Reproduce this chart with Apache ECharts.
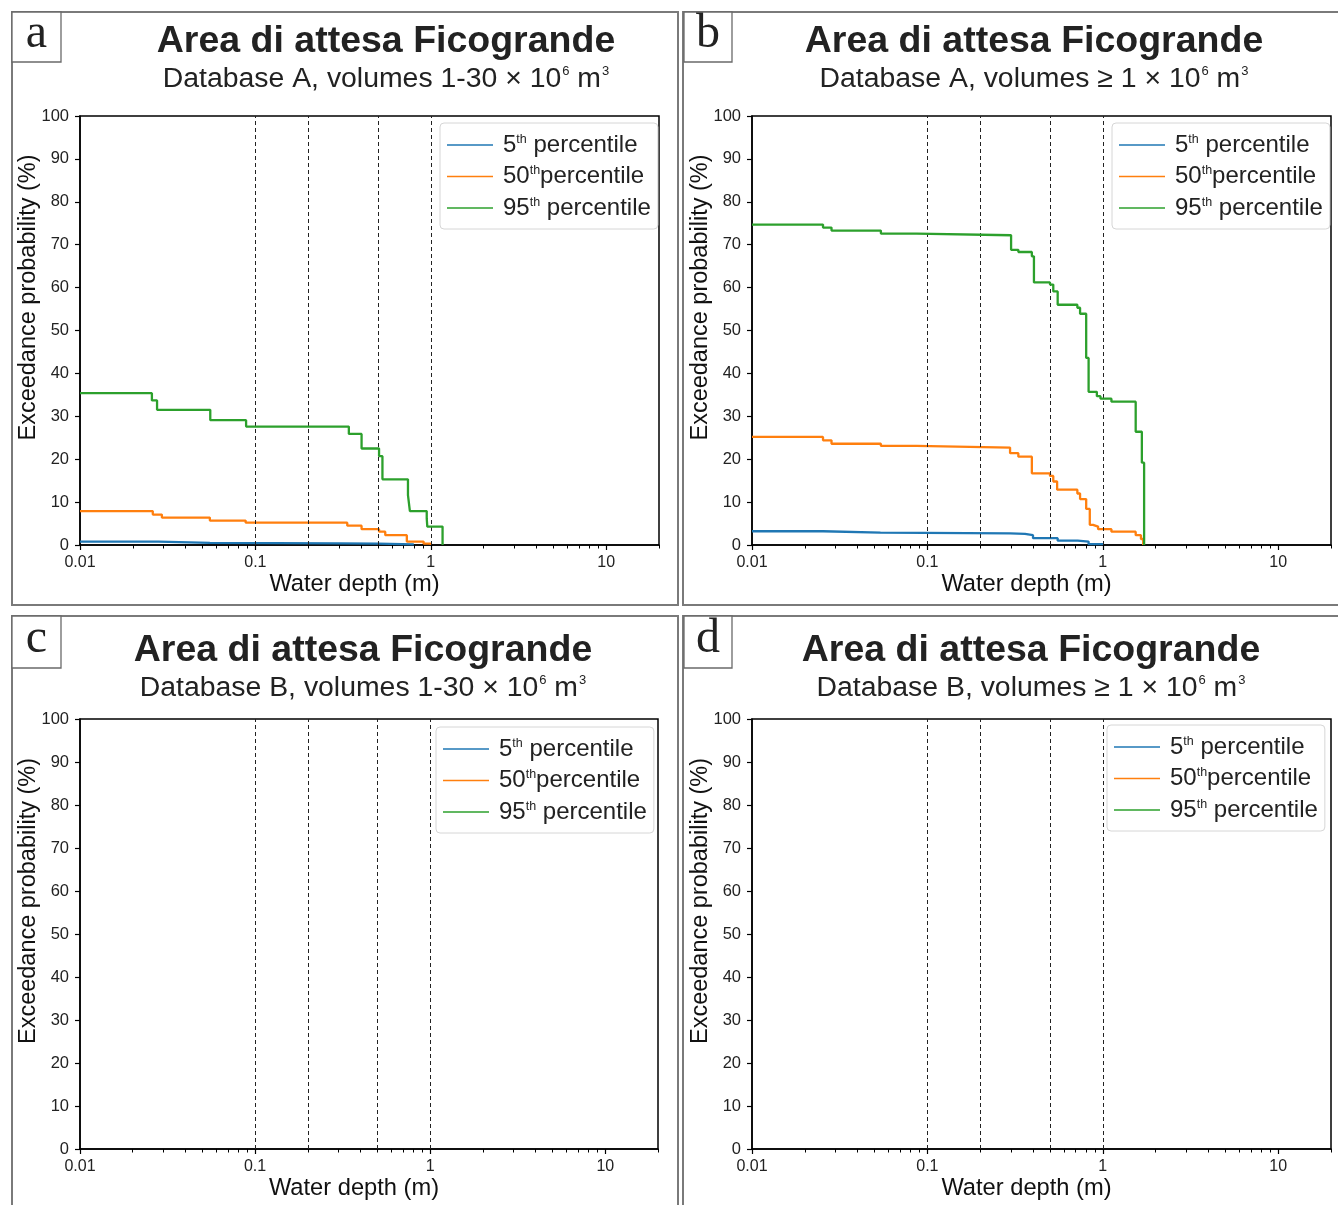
<!DOCTYPE html>
<html>
<head>
<meta charset="utf-8">
<script src="https://cdn.jsdelivr.net/npm/echarts@6/dist/echarts.min.js"></script>
<style>html,body{margin:0;padding:0;background:#fff}#c{width:1338px;height:1205px}</style>
</head>
<body>
<div id="c"></div>
<script>
// ---- data ----
const seriesNames = ['p5', 'p50', 'p95'];
const legendLabels = { p5: '5', p50: '50', p95: '95' };
const xMajorTicks = [0.01, 0.1, 1, 10];
const xMinorTicks = [0.02,0.03,0.04,0.05,0.06,0.07,0.08,0.09,0.2,0.3,0.4,0.5,0.6,0.7,0.8,0.9,2,3,4,5,6,7,8,9,20];
const guideDepths = [0.1, 0.2, 0.5, 1];
const panelLetters = ['a', 'b', 'c', 'd'];
const panelTitle = 'Area di attesa Ficogrande';
const panelSubtitles = [
  'Database A, volumes 1-30 × 10{s|6} m{s|3}',
  'Database A, volumes ≥ 1 × 10{s|6} m{s|3}',
  'Database B, volumes 1-30 × 10{s|6} m{s|3}',
  'Database B, volumes ≥ 1 × 10{s|6} m{s|3}'
];

// Panel a (Database A, 1-30)
const p5a  = [[0.01,0.8],[0.028,0.5],[0.055,0.4],[0.3,0.3],[0.5,0.15],[0.8,0]];
const p50a = [[0.01,7.9],[0.026,7.1],[0.0293,6.4],[0.055,5.7],[0.088,5.2],[0.334,4.5],[0.403,3.7],[0.507,3.1],[0.55,2.3],[0.73,0.8],[0.91,0.3],[1.0,0]];
const p95a = [[0.01,35.4],[0.0257,33.7],[0.0275,31.5],[0.0553,29.1],[0.0885,27.6],[0.341,25.9],[0.403,22.5],[0.507,20.7],[0.53,15.3],[0.741,11.6],[0.76,7.9],[0.948,6.2],[0.955,4.3],[1.167,0]];
// Panel b (Database A, >=1)
const p5b  = [[0.01,3.2],[0.0254,2.9],[0.054,2.7],[0.296,2.6],[0.36,2.3],[0.40,1.6],[0.553,1.0],[0.72,0.8],[0.83,0.2],[1.0,0]];
const p50b = [[0.01,25.2],[0.0254,24.4],[0.0284,23.6],[0.0543,23.1],[0.0867,22.7],[0.296,21.4],[0.330,20.6],[0.394,16.7],[0.5,16.1],[0.522,14.8],[0.549,12.9],[0.716,12.0],[0.742,10.7],[0.804,8.4],[0.843,4.7],[0.88,4.3],[0.94,3.7],[1.12,3.1],[1.54,2.3],[1.65,1.4],[1.7,0]];
const p95b = [[0.01,74.7],[0.0254,74.0],[0.0284,73.3],[0.0543,72.6],[0.0867,72.2],[0.300,68.8],[0.330,68.3],[0.394,67.3],[0.405,61.2],[0.500,60.7],[0.522,59.1],[0.553,56.0],[0.716,55.3],[0.742,53.9],[0.804,43.6],[0.83,35.7],[0.925,34.7],[0.97,34.1],[1.12,33.4],[1.54,26.4],[1.67,19.2],[1.72,0]];
// Panels c, d (Database B) – no curves drawn
const p5c = [], p50c = [], p95c = [];
const p5d = [], p50d = [], p95d = [];

const panelData = [[p5a,p50a,p95a],[p5b,p50b,p95b],[p5c,p50c,p95c],[p5d,p50d,p95d]];

// ---- layout ----
const colors = ['#1f77b4', '#ff7f0e', '#2ca02c'];
const FONT = '"Liberation Sans", Arial, Helvetica, sans-serif';
const grids = [
  {left: 80,  top: 116, width: 579, height: 429},
  {left: 752, top: 116, width: 579, height: 429},
  {left: 80,  top: 719, width: 578, height: 430},
  {left: 752, top: 719, width: 579, height: 430}
];
const frames = [[12,12,666,593],[683,12,660,593],[12,616,666,600],[683,616,660,600]];
const letterBoxes = [[12,12,49,50],[684,12,48,50],[12,616,49,52],[684,616,48,52]];
// [center x, title center y, subtitle center y]
const titleCenters = [[386,42,79],[1034,42,79],[363,651,688],[1031,651,688]];
const legendPos = [[440,123],[1112,123],[436,727],[1107,725]];

const option = {
  animation: false,
  backgroundColor: '#fff',
  textStyle: {fontFamily: FONT},
  grid: grids.map(g => Object.assign({show: true, borderColor: '#000', borderWidth: 1.5, backgroundColor: 'transparent', containLabel: false}, g)),
  title: [],
  legend: [],
  xAxis: [],
  yAxis: [],
  series: [],
  graphic: []
};

grids.forEach((g, i) => {
  option.xAxis.push({
    type: 'log', logBase: 10, min: 0.01, max: 20, gridIndex: i, position: 'bottom',
    name: 'Water depth (m)', nameLocation: 'middle', nameGap: 27, nameMoveOverlap: false,
    nameTextStyle: {fontSize: 23.7, color: '#111', fontFamily: FONT, padding: [0, 30, 0, 0]},
    axisLine: {show: true, onZero: false, lineStyle: {color: '#000', width: 1.5}},
    axisTick: {show: true, inside: false, length: 5, customValues: xMajorTicks, lineStyle: {color: '#000', width: 1.2}},
    axisLabel: {show: true, customValues: xMajorTicks, margin: 9.5, fontSize: 16, color: '#222', fontFamily: FONT,
      formatter: v => String(+Number(v).toPrecision(3))},
    splitLine: {show: false}
  });
  option.yAxis.push({
    type: 'value', min: 0, max: 100, interval: 10, gridIndex: i,
    name: 'Exceedance probability (%)', nameLocation: 'middle', nameGap: 39, nameMoveOverlap: false,
    nameTextStyle: {fontSize: 23.5, color: '#111', fontFamily: FONT, padding: [0, 0, 0, 66]},
    axisLine: {show: true, lineStyle: {color: '#000', width: 1.5}},
    axisTick: {show: true, inside: false, length: 5, lineStyle: {color: '#000', width: 1.2}},
    axisLabel: {margin: 11, fontSize: 16.5, color: '#222', fontFamily: FONT},
    splitLine: {show: false}
  });
});
grids.forEach((g, i) => {
  option.xAxis.push({
    type: 'log', logBase: 10, min: 0.01, max: 20, gridIndex: i, position: 'bottom', offset: 0,
    axisLine: {show: false},
    axisTick: {show: true, inside: false, length: 3.5, customValues: xMinorTicks, lineStyle: {color: '#000', width: 1}},
    axisLabel: {show: false},
    splitLine: {show: false}
  });
});

grids.forEach((g, i) => {
  seriesNames.forEach((nm, k) => {
    const s = {
      name: nm, type: 'line', step: 'end', xAxisIndex: i, yAxisIndex: i,
      data: panelData[i][k], showSymbol: false, symbol: 'none',
      color: colors[k], lineStyle: {width: 2.3, color: colors[k]}, z: 3 + k
    };
    if (k === 0) {
      s.markLine = {
        silent: true, symbol: ['none', 'none'], label: {show: false},
        lineStyle: {type: [4, 3], color: '#222', width: 1},
        emphasis: {disabled: true},
        data: guideDepths.map(v => ({xAxis: v}))
      };
    }
    option.series.push(s);
  });

  option.legend.push({
    orient: 'vertical', left: legendPos[i][0], top: legendPos[i][1],
    data: seriesNames, selectedMode: false,
    icon: 'rect', itemWidth: 46, itemHeight: 1.5, itemGap: 4.5,
    padding: [7, 7, 9, 7],
    backgroundColor: '#fff', borderColor: '#d6d6d6', borderWidth: 1, borderRadius: 4,
    formatter: nm => '{n|' + legendLabels[nm] + '}{s|th}{t|' + (nm === 'p50' ? '' : ' ') + 'percentile}',
    textStyle: {
      fontFamily: FONT,
      rich: {
        n: {fontSize: 24, lineHeight: 30, color: '#222', fontFamily: FONT, padding: [0, 0, 0, 5]},
        s: {fontSize: 12.5, lineHeight: 12.5, color: '#222', fontFamily: FONT, verticalAlign: 'top', padding: [3, 0, 0, 0]},
        t: {fontSize: 24, lineHeight: 30, color: '#222', fontFamily: FONT}
      }
    }
  });

  const tc = titleCenters[i];
  option.title.push({
    text: panelTitle, left: tc[0], top: tc[1] - 22, textAlign: 'center', padding: 0,
    textStyle: {fontSize: 37.5, fontWeight: 'bold', color: '#222', fontFamily: FONT, lineHeight: 44}
  });
  option.title.push({
    text: panelSubtitles[i], left: tc[0], top: tc[2] - 17, textAlign: 'center', padding: 0,
    textStyle: {
      fontSize: 28.4, fontWeight: 'normal', color: '#222', fontFamily: FONT, lineHeight: 34,
      rich: {s: {fontSize: 13, lineHeight: 13, verticalAlign: 'top', color: '#222', fontFamily: FONT, padding: [3, 0, 0, 1]}}
    }
  });

  const f = frames[i];
  option.graphic.push({type: 'rect', z: -10, silent: true,
    shape: {x: f[0], y: f[1], width: f[2], height: f[3]},
    style: {fill: 'none', stroke: '#7a7a7a', lineWidth: 2}});
  const b = letterBoxes[i];
  option.graphic.push({type: 'rect', z: 10, silent: true,
    shape: {x: b[0], y: b[1], width: b[2], height: b[3]},
    style: {fill: '#fff', stroke: '#6a6a6a', lineWidth: 1.3}});
  option.graphic.push({type: 'text', z: 11, silent: true,
    x: b[0] + b[2] / 2, y: b[1] + b[3] / 2 - 3,
    style: {text: panelLetters[i], font: '48px "Liberation Serif", "Times New Roman", serif', fill: '#222', align: 'center', verticalAlign: 'middle'}});
});

const chart = echarts.init(document.getElementById('c'), null, {renderer: 'canvas'});
chart.setOption(option);
</script>
</body>
</html>
